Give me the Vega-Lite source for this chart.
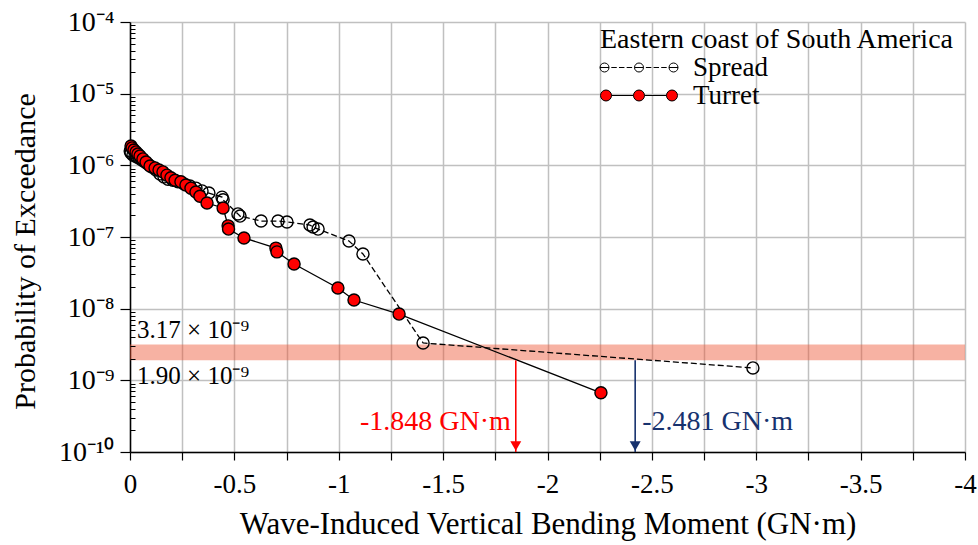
{
  "$schema": "https://vega.github.io/schema/vega-lite/v6.json",
  "autosize": {"type": "none"},
  "width": 835,
  "height": 430,
  "padding": {"left": 130, "top": 22, "right": 13, "bottom": 93},
  "background": "white",
  "config": {"view": {"stroke": null}, "font": "Liberation Serif"},
  "datasets": {
    "pts": [
      {"series": "Spread", "x": -0.001, "y": 1.58e-6},
      {"series": "Spread", "x": -0.005, "y": 1.49e-6},
      {"series": "Spread", "x": -0.014, "y": 1.39e-6},
      {"series": "Spread", "x": -0.024, "y": 1.35e-6},
      {"series": "Spread", "x": -0.034, "y": 1.31e-6},
      {"series": "Spread", "x": -0.043, "y": 1.27e-6},
      {"series": "Spread", "x": -0.057, "y": 1.19e-6},
      {"series": "Spread", "x": -0.072, "y": 1.11e-6},
      {"series": "Spread", "x": -0.086, "y": 1.04e-6},
      {"series": "Spread", "x": -0.105, "y": 9.5e-7},
      {"series": "Spread", "x": -0.125, "y": 8.6e-7},
      {"series": "Spread", "x": -0.144, "y": 7.6e-7},
      {"series": "Spread", "x": -0.163, "y": 6.9e-7},
      {"series": "Spread", "x": -0.182, "y": 6.4e-7},
      {"series": "Spread", "x": -0.206, "y": 6.2e-7},
      {"series": "Spread", "x": -0.230, "y": 5.9e-7},
      {"series": "Spread", "x": -0.259, "y": 5.5e-7},
      {"series": "Spread", "x": -0.287, "y": 5.15e-7},
      {"series": "Spread", "x": -0.316, "y": 4.8e-7},
      {"series": "Spread", "x": -0.345, "y": 4.4e-7},
      {"series": "Spread", "x": -0.378, "y": 4.1e-7},
      {"series": "Spread", "x": -0.441, "y": 3.6e-7},
      {"series": "Spread", "x": -0.446, "y": 3.3e-7},
      {"series": "Spread", "x": -0.517, "y": 2.1e-7},
      {"series": "Spread", "x": -0.527, "y": 1.96e-7},
      {"series": "Spread", "x": -0.628, "y": 1.67e-7},
      {"series": "Spread", "x": -0.709, "y": 1.67e-7},
      {"series": "Spread", "x": -0.752, "y": 1.62e-7},
      {"series": "Spread", "x": -0.862, "y": 1.47e-7},
      {"series": "Spread", "x": -0.877, "y": 1.38e-7},
      {"series": "Spread", "x": -0.901, "y": 1.29e-7},
      {"series": "Spread", "x": -1.049, "y": 8.8e-8},
      {"series": "Spread", "x": -1.116, "y": 5.8e-8},
      {"series": "Spread", "x": -1.404, "y": 3.32e-9},
      {"series": "Spread", "x": -2.984, "y": 1.49e-9},
      {"series": "Turret", "x": -0.005, "y": 1.86e-6},
      {"series": "Turret", "x": -0.010, "y": 1.75e-6},
      {"series": "Turret", "x": -0.019, "y": 1.64e-6},
      {"series": "Turret", "x": -0.029, "y": 1.54e-6},
      {"series": "Turret", "x": -0.038, "y": 1.44e-6},
      {"series": "Turret", "x": -0.048, "y": 1.35e-6},
      {"series": "Turret", "x": -0.062, "y": 1.23e-6},
      {"series": "Turret", "x": -0.077, "y": 1.11e-6},
      {"series": "Turret", "x": -0.096, "y": 9.8e-7},
      {"series": "Turret", "x": -0.120, "y": 9.2e-7},
      {"series": "Turret", "x": -0.139, "y": 8.6e-7},
      {"series": "Turret", "x": -0.158, "y": 8.1e-7},
      {"series": "Turret", "x": -0.177, "y": 7.3e-7},
      {"series": "Turret", "x": -0.196, "y": 6.7e-7},
      {"series": "Turret", "x": -0.216, "y": 6.2e-7},
      {"series": "Turret", "x": -0.244, "y": 5.9e-7},
      {"series": "Turret", "x": -0.268, "y": 5.3e-7},
      {"series": "Turret", "x": -0.292, "y": 4.8e-7},
      {"series": "Turret", "x": -0.316, "y": 4.25e-7},
      {"series": "Turret", "x": -0.335, "y": 3.7e-7},
      {"series": "Turret", "x": -0.369, "y": 2.98e-7},
      {"series": "Turret", "x": -0.446, "y": 2.54e-7},
      {"series": "Turret", "x": -0.470, "y": 1.43e-7},
      {"series": "Turret", "x": -0.472, "y": 1.29e-7},
      {"series": "Turret", "x": -0.546, "y": 9.7e-8},
      {"series": "Turret", "x": -0.699, "y": 7.0e-8},
      {"series": "Turret", "x": -0.704, "y": 6.2e-8},
      {"series": "Turret", "x": -0.786, "y": 4.2e-8},
      {"series": "Turret", "x": -0.996, "y": 1.94e-8},
      {"series": "Turret", "x": -1.073, "y": 1.32e-8},
      {"series": "Turret", "x": -1.289, "y": 8.4e-9},
      {"series": "Turret", "x": -2.256, "y": 6.7e-10}
    ],
    "arrows": [
      {"series": "Turret", "x": -1.848, "top": 1.9e-9, "bottom": 1e-10, "ty": 2.62e-10, "label": "-1.848 GN·m"},
      {"series": "Spread", "x": -2.42, "top": 1.9e-9, "bottom": 1e-10, "ty": 2.62e-10, "label": "-2.481 GN·m"}
    ],
    "band": [
      {"x": 0, "x2": -4, "lo": 1.9e-9, "hi": 3.17e-9}
    ],
    "bandlabels": [
      {"x": -0.034, "y": 5.0e-9, "label": "3.17 × 10⁻⁹"},
      {"x": -0.034, "y": 1.15e-9, "label": "1.90 × 10⁻⁹"}
    ]
  },
  "resolve": {"axis": {"y": "independent"}},
  "layer": [
    {
      "data": {"name": "band"},
      "mark": {"type": "rect", "color": "#ee5533", "opacity": 0.45},
      "encoding": {
        "x": {
          "field": "x", "type": "quantitative",
          "scale": {"domain": [0, -4], "nice": false, "zero": false},
          "axis": {
            "title": "Wave-Induced Vertical Bending Moment (GN·m)",
            "values": [0, -0.25, -0.5, -0.75, -1, -1.25, -1.5, -1.75, -2, -2.25, -2.5, -2.75, -3, -3.25, -3.5, -3.75, -4],
            "labelExpr": "datum.value == 0 ? '0' : (abs(datum.value * 2 - round(datum.value * 2)) < 0.001 ? '' + datum.value : '')",
            "grid": true, "gridColor": "#c0c0c0", "gridWidth": 1.5,
            "domainColor": "black", "domainWidth": 1.5,
            "tickColor": "black", "tickSize": 8, "tickWidth": 1.2,
            "labelFont": "Liberation Serif", "labelFontSize": 27, "labelColor": "black", "labelPadding": 11,
            "labelFlush": false, "labelOverlap": false,
            "titleFont": "Liberation Serif", "titleFontSize": 31, "titleFontWeight": "normal", "titleColor": "black",
            "titleBaseline": "middle", "titleY": 72
          }
        },
        "x2": {"field": "x2"},
        "y": {
          "field": "lo", "type": "quantitative",
          "scale": {"type": "log", "domain": [1e-10, 1e-4], "nice": false},
          "axis": {
            "title": "Probability of Exceedance",
            "values": [1e-10, 1e-9, 1e-8, 1e-7, 1e-6, 1e-5, 1e-4],
            "labelExpr": "datum.value >= 9e-5 ? '10⁻⁴' : datum.value >= 9e-6 ? '10⁻⁵' : datum.value >= 9e-7 ? '10⁻⁶' : datum.value >= 9e-8 ? '10⁻⁷' : datum.value >= 9e-9 ? '10⁻⁸' : datum.value >= 9e-10 ? '10⁻⁹' : '10⁻¹⁰'",
            "grid": true, "gridColor": "#c0c0c0", "gridWidth": 1.5,
            "domainColor": "black", "domainWidth": 1.5,
            "tickColor": "black", "tickSize": 10, "tickWidth": 1.2,
            "labelFont": "Liberation Serif", "labelFontSize": 28, "labelColor": "black", "labelPadding": 6,
            "labelOverlap": false, "labelFlush": false,
            "titleFont": "Liberation Serif", "titleFontSize": 30, "titleFontWeight": "normal", "titleColor": "black",
            "titleX": -105, "titleY": 229, "titleBaseline": "middle", "titleAlign": "center", "titleAngle": -90
          }
        },
        "y2": {"field": "hi"}
      }
    },
    {
      "data": {"name": "pts"},
      "transform": [{"filter": "datum.series === 'Spread'"}],
      "mark": {"type": "line", "color": "black", "strokeWidth": 1.3, "strokeDash": [6, 3]},
      "encoding": {
        "x": {"field": "x", "type": "quantitative"},
        "y": {
          "field": "y", "type": "quantitative",
          "axis": {
            "orient": "left",
            "values": [2e-10, 3e-10, 4e-10, 5e-10, 6e-10, 7e-10, 8e-10, 9e-10, 2e-9, 3e-9, 4e-9, 5e-9, 6e-9, 7e-9, 8e-9, 9e-9, 2e-8, 3e-8, 4e-8, 5e-8, 6e-8, 7e-8, 8e-8, 9e-8, 2e-7, 3e-7, 4e-7, 5e-7, 6e-7, 7e-7, 8e-7, 9e-7, 2e-6, 3e-6, 4e-6, 5e-6, 6e-6, 7e-6, 8e-6, 9e-6, 2e-5, 3e-5, 4e-5, 5e-5, 6e-5, 7e-5, 8e-5, 9e-5],
            "labels": false, "domain": false, "grid": false, "title": null,
            "ticks": true, "tickSize": -5, "tickColor": "black", "tickWidth": 1, "zindex": 1
          }
        }
      }
    },
    {
      "data": {"name": "pts"},
      "transform": [{"filter": "datum.series === 'Turret'"}],
      "mark": {"type": "line", "color": "black", "strokeWidth": 1.3},
      "encoding": {
        "x": {"field": "x", "type": "quantitative"},
        "y": {"field": "y", "type": "quantitative", "axis": null}
      }
    },
    {
      "data": {"name": "pts"},
      "mark": {"type": "point", "filled": true, "stroke": "black", "strokeWidth": 1.4, "opacity": 1, "size": 145},
      "encoding": {
        "x": {"field": "x", "type": "quantitative"},
        "y": {"field": "y", "type": "quantitative", "axis": null},
        "fill": {
          "field": "series", "type": "nominal",
          "scale": {"domain": ["Spread", "Turret"], "range": ["transparent", "#ff0000"]},
          "legend": {
            "title": "Eastern coast of South America",
            "orient": "none", "legendX": 470, "legendY": 4,
            "padding": 0,
            "titleFont": "Liberation Serif", "titleFontSize": 28, "titleFontWeight": "normal", "titleColor": "black",
            "titlePadding": 0, "titleLimit": 600, "labelLimit": 300,
            "labelFont": "Liberation Serif", "labelFontSize": 27, "labelColor": "black",
            "symbolSize": 676, "symbolOffset": 25.5, "labelOffset": 40.5, "rowPadding": 0,
            "symbolStrokeWidth": 1, "symbolStrokeColor": "black",
            "symbolType": {"expr": "datum.value === 'Spread' ? 'M -3 0 A 0.346 0.346 0 1 0 -2.308 0 A 0.346 0.346 0 1 0 -3 0 Z M -0.346 0 A 0.346 0.346 0 1 0 0.346 0 A 0.346 0.346 0 1 0 -0.346 0 Z M 2.308 0 A 0.346 0.346 0 1 0 3 0 A 0.346 0.346 0 1 0 2.308 0 Z M -3 0 L -2.308 0 M -0.346 0 L 0.346 0 M 2.308 0 L 3 0 M -2.13 0 L -1.71 0 M -1.54 0 L -1.12 0 M -0.95 0 L -0.53 0 M 0.53 0 L 0.95 0 M 1.12 0 L 1.54 0 M 1.71 0 L 2.13 0' : 'M -2.961 0 A 0.423 0.423 0 1 0 -2.115 0 A 0.423 0.423 0 1 0 -2.961 0 Z M -0.423 0 A 0.423 0.423 0 1 0 0.423 0 A 0.423 0.423 0 1 0 -0.423 0 Z M 2.115 0 A 0.423 0.423 0 1 0 2.961 0 A 0.423 0.423 0 1 0 2.115 0 Z M -2.115 0 L -0.423 0 M 0.423 0 L 2.115 0'"}
          }
        }
      }
    },
    {
      "data": {"name": "arrows"},
      "mark": {"type": "rule", "strokeWidth": 1.6},
      "encoding": {
        "x": {"field": "x", "type": "quantitative"},
        "y": {"field": "top", "type": "quantitative", "axis": null},
        "y2": {"field": "bottom"},
        "color": {
          "field": "series", "type": "nominal",
          "scale": {"domain": ["Turret", "Spread"], "range": ["#ff0000", "#17326e"]},
          "legend": null
        }
      }
    },
    {
      "data": {"name": "arrows"},
      "mark": {"type": "point", "shape": "triangle-down", "filled": true, "size": 120, "opacity": 1, "yOffset": -6},
      "encoding": {
        "x": {"field": "x", "type": "quantitative"},
        "y": {"field": "bottom", "type": "quantitative", "axis": null},
        "color": {"field": "series", "type": "nominal", "legend": null}
      }
    },
    {
      "data": {"name": "arrows"},
      "transform": [{"filter": "datum.series === 'Turret'"}],
      "mark": {"type": "text", "align": "right", "baseline": "middle", "dx": -5, "font": "Liberation Serif", "fontSize": 28},
      "encoding": {
        "x": {"field": "x", "type": "quantitative"},
        "y": {"field": "ty", "type": "quantitative", "axis": null},
        "text": {"field": "label"},
        "color": {"field": "series", "type": "nominal", "legend": null}
      }
    },
    {
      "data": {"name": "arrows"},
      "transform": [{"filter": "datum.series === 'Spread'"}],
      "mark": {"type": "text", "align": "left", "baseline": "middle", "dx": 7, "font": "Liberation Serif", "fontSize": 28},
      "encoding": {
        "x": {"field": "x", "type": "quantitative"},
        "y": {"field": "ty", "type": "quantitative", "axis": null},
        "text": {"field": "label"},
        "color": {"field": "series", "type": "nominal", "legend": null}
      }
    },
    {
      "data": {"name": "bandlabels"},
      "mark": {"type": "text", "align": "left", "baseline": "middle", "font": "Liberation Serif", "fontSize": 25, "color": "black"},
      "encoding": {
        "x": {"field": "x", "type": "quantitative"},
        "y": {"field": "y", "type": "quantitative", "axis": null},
        "text": {"field": "label"}
      }
    }
  ]
}
